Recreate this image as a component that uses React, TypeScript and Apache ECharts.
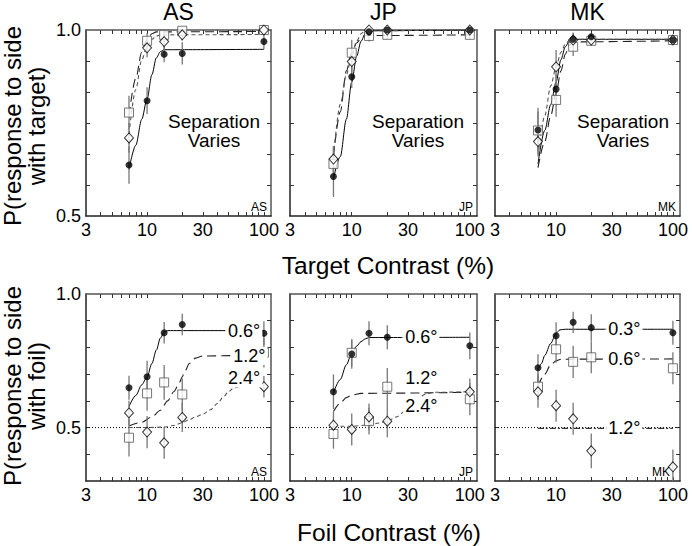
import React, { useEffect, useRef } from "react";
import * as echarts from "echarts";

// ---------- data ----------
const SUBJECTS = ["AS", "JP", "MK"];
const CONTRASTS = [7, 10, 14, 20, 100];
const X_MIN = 3;
const X_MAX = 115;
const X_TICK_LABELS = [3, 10, 30, 100];
const X_TICKS = [4, 5, 6, 7, 8, 9, 10, 20, 30, 40, 50, 60, 70, 80, 90, 100];
const Y_TICK_LABELS = [0.5, 1.0];
const TOP_Y_TICKS = [0.5833, 0.6667, 0.75, 0.8333, 0.9167];
const BOTTOM_Y_TICKS = [0.4, 0.5, 0.6, 0.7, 0.8, 0.9];

// Top row: P(response to side with target), separation varies
const TOP_AS_FILLED = [0.637, 0.81, 0.935, 0.937, 0.969];
const TOP_AS_FILLED_ERR = [0.05, 0.036, 0.022, 0.03, 0.02];
const TOP_AS_SQUARE = [0.778, 0.971, 0.987, 0.998, 1.0];
const TOP_AS_SQUARE_ERR = [0.045, 0.02, 0.012, 0.01, 0.005];
const TOP_AS_DIAMOND = [0.71, 0.952, 0.969, 0.987, 1.0];
const TOP_AS_DIAMOND_ERR = [0.04, 0.025, 0.02, 0.015, 0.005];
const TOP_AS_FIT_SOLID = [[7, 0.625], [8, 0.69], [9, 0.76], [10, 0.815], [11, 0.88], [12, 0.925], [13, 0.942], [14, 0.947], [100, 0.948]];
const TOP_AS_FIT_DASH = [[7, 0.77], [8, 0.87], [9, 0.94], [10, 0.975], [11, 0.99], [12, 0.995], [100, 0.996]];
const TOP_AS_FIT_DOT = [[7, 0.72], [8, 0.84], [9, 0.92], [10, 0.955], [11, 0.975], [12, 0.984], [13, 0.987], [100, 0.988]];

const TOP_JP_FILLED = [0.606, 0.874, 0.995, 1.0, 1.0];
const TOP_JP_FILLED_ERR = [0.055, 0.03, 0.01, 0.005, 0.005];
const TOP_JP_SQUARE = [0.64, 0.939, 0.984, 0.987, 0.987];
const TOP_JP_SQUARE_ERR = [0.045, 0.035, 0.015, 0.012, 0.012];
const TOP_JP_DIAMOND = [0.653, 0.915, 1.0, 1.0, 1.0];
const TOP_JP_DIAMOND_ERR = [0.035, 0.03, 0.005, 0.005, 0.005];
const TOP_JP_FIT_SOLID = [[7, 0.6], [8, 0.66], [9, 0.76], [10, 0.86], [11, 0.93], [12, 0.97], [13, 0.99], [14, 0.998], [100, 1.0]];
const TOP_JP_FIT_DASH = [[7, 0.66], [8, 0.78], [9, 0.89], [10, 0.94], [11, 0.965], [12, 0.978], [13, 0.985], [100, 0.987]];
const TOP_JP_FIT_DOT = [[7, 0.66], [8, 0.8], [9, 0.88], [10, 0.93], [11, 0.97], [12, 0.99], [13, 0.998], [100, 1.0]];

const TOP_MK_FILLED = [0.731, 0.841, 0.975, 0.982, 0.973];
const TOP_MK_FILLED_ERR = [0.06, 0.04, 0.015, 0.01, 0.01];
const TOP_MK_SQUARE = [0.73, 0.812, 0.955, 0.971, 0.973];
const TOP_MK_SQUARE_ERR = [0.05, 0.045, 0.025, 0.012, 0.01];
const TOP_MK_DIAMOND = [0.7, 0.901, 0.973, 0.973, 0.973];
const TOP_MK_DIAMOND_ERR = [0.035, 0.045, 0.02, 0.01, 0.01];
const TOP_MK_FIT_SOLID = [[7, 0.64], [8, 0.73], [9, 0.8], [10, 0.86], [11, 0.92], [12, 0.955], [13, 0.97], [14, 0.975], [100, 0.975]];
const TOP_MK_FIT_DASH = [[7, 0.63], [8, 0.7], [9, 0.77], [10, 0.83], [11, 0.89], [12, 0.935], [13, 0.96], [14, 0.968], [100, 0.971]];
const TOP_MK_FIT_DOT = [[7, 0.66], [8, 0.77], [9, 0.85], [10, 0.9], [11, 0.94], [12, 0.962], [13, 0.972], [14, 0.975], [100, 0.975]];

// Bottom row: P(response to side with foil), separation labels
const BOT_AS_FILLED = [0.649, 0.69, 0.855, 0.886, 0.853];
const BOT_AS_FILLED_ERR = [0.045, 0.06, 0.04, 0.04, 0.045];
const BOT_AS_SQUARE = [0.462, 0.628, 0.669, 0.624, 0.78];
const BOT_AS_SQUARE_ERR = [0.07, 0.065, 0.065, 0.06, 0.055];
const BOT_AS_DIAMOND = [0.555, 0.483, 0.443, 0.538, 0.653];
const BOT_AS_DIAMOND_ERR = [0.045, 0.06, 0.06, 0.055, 0.04];
const BOT_AS_FIT_SOLID = [[7, 0.578], [8, 0.62], [9, 0.66], [10, 0.69], [11, 0.74], [12, 0.79], [13, 0.835], [14, 0.858], [15, 0.863], [100, 0.863]];
const BOT_AS_FIT_DASH = [[7, 0.506], [9, 0.52], [11, 0.54], [13, 0.565], [15, 0.6], [17, 0.635], [19, 0.67], [20, 0.69], [21, 0.71], [23, 0.74], [26, 0.76], [30, 0.768], [100, 0.772]];
const BOT_AS_FIT_DOT = [[7, 0.5], [10, 0.5], [14, 0.502], [17, 0.508], [20, 0.518], [23, 0.53], [26, 0.54], [30, 0.55], [35, 0.567], [40, 0.59], [45, 0.615], [50, 0.635], [55, 0.648], [65, 0.655], [100, 0.657]];
const BOT_AS_LABELS = ["0.6°", "1.2°", "2.4°"];

const BOT_JP_FILLED = [0.634, 0.775, 0.853, 0.838, 0.806];
const BOT_JP_FILLED_ERR = [0.065, 0.055, 0.045, 0.045, 0.05];
const BOT_JP_SQUARE = [0.476, 0.78, 0.524, 0.653, 0.606];
const BOT_JP_SQUARE_ERR = [0.055, 0.05, 0.05, 0.07, 0.06];
const BOT_JP_DIAMOND = [0.509, 0.493, 0.54, 0.524, 0.634];
const BOT_JP_DIAMOND_ERR = [0.05, 0.06, 0.05, 0.06, 0.05];
const BOT_JP_FIT_SOLID = [[7, 0.63], [8, 0.68], [9, 0.735], [10, 0.778], [11, 0.805], [12, 0.822], [13, 0.832], [14, 0.837], [100, 0.838]];
const BOT_JP_FIT_DASH = [[7, 0.56], [8, 0.592], [9, 0.612], [10, 0.622], [12, 0.628], [100, 0.632]];
const BOT_JP_FIT_DOT = [[7, 0.505], [10, 0.505], [14, 0.51], [17, 0.517], [20, 0.525], [24, 0.54], [28, 0.56], [32, 0.585], [36, 0.608], [42, 0.625], [50, 0.632], [100, 0.634]];
const BOT_JP_LABELS = ["0.6°", "1.2°", "2.4°"];

const BOT_MK_FILLED = [0.724, 0.844, 0.894, 0.874, 0.855];
const BOT_MK_FILLED_ERR = [0.05, 0.05, 0.04, 0.05, 0.045];
const BOT_MK_SQUARE = [0.653, 0.793, 0.746, 0.763, 0.722];
const BOT_MK_SQUARE_ERR = [0.05, 0.05, 0.06, 0.06, 0.06];
const BOT_MK_DIAMOND = [0.634, 0.582, 0.533, 0.413, 0.353];
const BOT_MK_DIAMOND_ERR = [0.06, 0.06, 0.06, 0.065, 0.065];
const BOT_MK_FIT_SOLID = [[7, 0.715], [7.5, 0.74], [8, 0.77], [9, 0.815], [10, 0.853], [10.8, 0.866], [12, 0.868], [100, 0.868]];
const BOT_MK_FIT_DASH = [[7, 0.655], [8, 0.7], [9, 0.735], [10, 0.75], [11, 0.756], [100, 0.757]];
const BOT_MK_FIT_DOT = [[7, 0.497], [100, 0.497]];
const BOT_MK_LABELS = ["0.3°", "0.6°", "1.2°"];

// label anchors (data coords) for separation labels in bottom row
const BOT_AS_LABEL_POS = [[47, 0.863], [52, 0.768], [47, 0.684]];
const BOT_JP_LABEL_POS = [[27, 0.838], [27, 0.684], [27, 0.58]];
const BOT_MK_LABEL_POS = [[26.6, 0.868], [26.6, 0.757], [26.6, 0.497]];

// ---------- layout / style ----------
const FONT = '"Liberation Sans", Arial, Helvetica, sans-serif';
const GRID_LEFTS = [86, 290, 495];
const GRID_WIDTHS = [185, 187, 185];
const ROW_TOPS = [30, 294];
const ROW_HEIGHTS = [186, 187];

const PANELS = [
  { filled: TOP_AS_FILLED, fe: TOP_AS_FILLED_ERR, square: TOP_AS_SQUARE, se: TOP_AS_SQUARE_ERR, diamond: TOP_AS_DIAMOND, de: TOP_AS_DIAMOND_ERR, fits: [TOP_AS_FIT_SOLID, TOP_AS_FIT_DASH, TOP_AS_FIT_DOT] },
  { filled: TOP_JP_FILLED, fe: TOP_JP_FILLED_ERR, square: TOP_JP_SQUARE, se: TOP_JP_SQUARE_ERR, diamond: TOP_JP_DIAMOND, de: TOP_JP_DIAMOND_ERR, fits: [TOP_JP_FIT_SOLID, TOP_JP_FIT_DASH, TOP_JP_FIT_DOT] },
  { filled: TOP_MK_FILLED, fe: TOP_MK_FILLED_ERR, square: TOP_MK_SQUARE, se: TOP_MK_SQUARE_ERR, diamond: TOP_MK_DIAMOND, de: TOP_MK_DIAMOND_ERR, fits: [TOP_MK_FIT_SOLID, TOP_MK_FIT_DASH, TOP_MK_FIT_DOT] },
  { filled: BOT_AS_FILLED, fe: BOT_AS_FILLED_ERR, square: BOT_AS_SQUARE, se: BOT_AS_SQUARE_ERR, diamond: BOT_AS_DIAMOND, de: BOT_AS_DIAMOND_ERR, fits: [BOT_AS_FIT_SOLID, BOT_AS_FIT_DASH, BOT_AS_FIT_DOT], labels: BOT_AS_LABELS, labelPos: BOT_AS_LABEL_POS },
  { filled: BOT_JP_FILLED, fe: BOT_JP_FILLED_ERR, square: BOT_JP_SQUARE, se: BOT_JP_SQUARE_ERR, diamond: BOT_JP_DIAMOND, de: BOT_JP_DIAMOND_ERR, fits: [BOT_JP_FIT_SOLID, BOT_JP_FIT_DASH, BOT_JP_FIT_DOT], labels: BOT_JP_LABELS, labelPos: BOT_JP_LABEL_POS },
  { filled: BOT_MK_FILLED, fe: BOT_MK_FILLED_ERR, square: BOT_MK_SQUARE, se: BOT_MK_SQUARE_ERR, diamond: BOT_MK_DIAMOND, de: BOT_MK_DIAMOND_ERR, fits: [BOT_MK_FIT_SOLID, BOT_MK_FIT_DASH, BOT_MK_FIT_DOT], labels: BOT_MK_LABELS, labelPos: BOT_MK_LABEL_POS },
];

const FIT_STYLES: any[] = [
  { color: "#000", width: 1, type: "solid" },
  { color: "#222", width: 1.1, type: [9, 5] },
  { color: "#555", width: 1.1, type: [4, 3] },
];
const MK_BOTTOM_THIRD_STYLE = { color: "#333", width: 1.2, type: [6, 2, 2, 2] };

function buildOption() {
  const grid: any[] = [];
  const xAxis: any[] = [];
  const yAxis: any[] = [];
  const series: any[] = [];
  const graphic: any[] = [];

  PANELS.forEach((p: any, i) => {
    const col = i % 3;
    const row = Math.floor(i / 3);
    const left = GRID_LEFTS[col];
    const top = ROW_TOPS[row];
    const width = GRID_WIDTHS[col];
    const height = ROW_HEIGHTS[row];
    grid.push({ left, top, width, height, show: false });

    const tickStyle = { show: true, inside: true, length: 4, lineStyle: { color: "#333", width: 1 } };
    const xBase = {
      type: "log",
      logBase: 10,
      min: X_MIN,
      max: X_MAX,
      gridIndex: i,
      splitLine: { show: false },
    };
    xAxis.push({
      ...xBase,
      position: "bottom",
      axisLine: { show: true, onZero: false, lineStyle: { color: "#222", width: 1.5 } },
      axisTick: { ...tickStyle, customValues: X_TICKS },
      axisLabel: {
        show: true,
        customValues: X_TICK_LABELS,
        formatter: (v: number) => String(Math.round(v)),
        fontSize: 18,
        fontFamily: FONT,
        color: "#000",
        margin: 5,
      },
    });
    xAxis.push({
      ...xBase,
      position: "top",
      axisLine: { show: true, onZero: false, lineStyle: { color: "#555", width: 1.5 } },
      axisTick: { ...tickStyle, customValues: X_TICKS },
      axisLabel: { show: false },
    });

    const yBase = {
      type: "value",
      min: row === 0 ? 0.5 : 0.3,
      max: 1.0,
      gridIndex: i,
      splitLine: { show: false },
    };
    const yTicks = row === 0 ? TOP_Y_TICKS : BOTTOM_Y_TICKS;
    yAxis.push({
      ...yBase,
      position: "left",
      axisLine: { show: true, onZero: false, lineStyle: { color: "#222", width: 1.5 } },
      axisTick: { ...tickStyle, customValues: yTicks },
      axisLabel: {
        show: col === 0,
        customValues: Y_TICK_LABELS,
        formatter: (v: number) => v.toFixed(1),
        fontSize: 18,
        fontFamily: FONT,
        color: "#000",
        margin: 5,
      },
    });
    yAxis.push({
      ...yBase,
      position: "right",
      axisLine: { show: true, onZero: false, lineStyle: { color: "#555", width: 1.5 } },
      axisTick: { ...tickStyle, customValues: yTicks },
      axisLabel: { show: false },
    });

    const xi = 2 * i;
    const yi = 2 * i;

    if (row === 1) {
      series.push({
        type: "line",
        xAxisIndex: xi,
        yAxisIndex: yi,
        data: [[X_MIN, 0.5], [X_MAX, 0.5]],
        symbol: "none",
        lineStyle: { color: "#000", width: 1, type: [1, 2] },
        z: 1,
        silent: true,
      });
    }

    p.fits.forEach((fit: number[][], k: number) => {
      const st = i === 5 && k === 2 ? MK_BOTTOM_THIRD_STYLE : FIT_STYLES[k];
      series.push({
        type: "line",
        xAxisIndex: xi,
        yAxisIndex: yi,
        data: fit,
        symbol: "none",
        smooth: 0.3,
        smoothMonotone: "x",
        lineStyle: st,
        z: 2,
        silent: true,
      });
    });

    const errData: number[][] = [];
    CONTRASTS.forEach((c, j) => {
      errData.push([c, p.square[j], p.se[j]]);
      errData.push([c, p.diamond[j], p.de[j]]);
      errData.push([c, p.filled[j], p.fe[j]]);
    });
    series.push({
      type: "custom",
      xAxisIndex: xi,
      yAxisIndex: yi,
      data: errData,
      encode: { x: 0, y: 1 },
      clip: true,
      z: 3,
      silent: true,
      renderItem: (params: any, api: any) => {
        const x = api.value(0);
        const y = api.value(1);
        const e = api.value(2);
        const p1 = api.coord([x, y - e]);
        const p2 = api.coord([x, y + e]);
        return {
          type: "line",
          shape: { x1: p1[0], y1: p1[1], x2: p2[0], y2: p2[1] },
          style: { stroke: "#777", lineWidth: 1.3 },
        };
      },
    });

    series.push({
      type: "scatter",
      xAxisIndex: xi,
      yAxisIndex: yi,
      data: CONTRASTS.map((c, j) => [c, p.square[j]]),
      symbol: "rect",
      symbolSize: 9,
      itemStyle: { color: "#fff", borderColor: "#555", borderWidth: 1 },
      z: 4,
      silent: true,
    });
    series.push({
      type: "scatter",
      xAxisIndex: xi,
      yAxisIndex: yi,
      data: CONTRASTS.map((c, j) => [c, p.diamond[j]]),
      symbol: "diamond",
      symbolSize: [9, 10],
      itemStyle: { color: "#fff", borderColor: "#000", borderWidth: 1 },
      z: 5,
      silent: true,
    });
    series.push({
      type: "scatter",
      xAxisIndex: xi,
      yAxisIndex: yi,
      data: CONTRASTS.map((c, j) => [c, p.filled[j]]),
      symbol: "circle",
      symbolSize: 7,
      itemStyle: { color: "#000" },
      z: 6,
      silent: true,
    });

    if (p.labels) {
      series.push({
        type: "scatter",
        xAxisIndex: xi,
        yAxisIndex: yi,
        data: p.labels.map((t: string, k: number) => ({ name: t, value: p.labelPos[k] })),
        symbol: "circle",
        symbolSize: 1,
        itemStyle: { color: "#fff", opacity: 1 },
        label: {
          show: true,
          position: "right",
          distance: 0,
          formatter: "{b}",
          fontSize: 18,
          fontFamily: FONT,
          color: "#000",
          opacity: 1,
          textBorderWidth: 0,
          textBorderColor: "transparent",
          backgroundColor: "#fff",
          padding: [0, 2, 0, 2],
        },
        labelLayout: { hideOverlap: false },
        z: 7,
        silent: true,
      });
    }

    // subject tag in the lower-right corner
    graphic.push({
      type: "text",
      x: left + width - (i === 5 ? 10 : 4),
      y: top + height - 3,
      style: {
        text: SUBJECTS[col],
        fontSize: 12,
        fontFamily: FONT,
        fill: "#000",
        textAlign: "right",
        textVerticalAlign: "bottom",
      },
      z: 10,
    });

    if (row === 0) {
      graphic.push({
        type: "text",
        x: left + width / 2,
        y: 12,
        style: {
          text: SUBJECTS[col],
          fontSize: 23,
          fontFamily: FONT,
          fill: "#000",
          textAlign: "center",
          textVerticalAlign: "middle",
        },
      });
      graphic.push({
        type: "text",
        x: left + 128,
        y: 131,
        style: {
          text: "Separation\nVaries",
          fontSize: 19,
          lineHeight: 19,
          fontFamily: FONT,
          fill: "#000",
          textAlign: "center",
          textVerticalAlign: "middle",
        },
        z: 10,
      });
    }
  });

  graphic.push({
    type: "text",
    x: 388,
    y: 265,
    style: { text: "Target Contrast (%)", fontSize: 24.5, fontFamily: FONT, fill: "#000", textAlign: "center", textVerticalAlign: "middle" },
  });
  graphic.push({
    type: "text",
    x: 389,
    y: 532,
    style: { text: "Foil Contrast (%)", fontSize: 24.5, fontFamily: FONT, fill: "#000", textAlign: "center", textVerticalAlign: "middle" },
  });
  graphic.push({
    type: "text",
    x: 24,
    y: 126,
    rotation: Math.PI / 2,
    style: { text: "P(response to side\nwith target)", fontSize: 24, lineHeight: 24, fontFamily: FONT, fill: "#000", textAlign: "center", textVerticalAlign: "middle" },
  });
  graphic.push({
    type: "text",
    x: 24,
    y: 386,
    rotation: Math.PI / 2,
    style: { text: "P(response to side\nwith foil)", fontSize: 24, lineHeight: 24, fontFamily: FONT, fill: "#000", textAlign: "center", textVerticalAlign: "middle" },
  });

  return {
    animation: false,
    backgroundColor: "#fff",
    textStyle: { fontFamily: FONT },
    grid,
    xAxis,
    yAxis,
    series,
    graphic,
  };
}

export default function App() {
  const ref = useRef<HTMLDivElement>(null);
  useEffect(() => {
    if (!ref.current) return;
    const chart = echarts.init(ref.current, null, { renderer: "svg" });
    chart.setOption(buildOption() as any);
    return () => chart.dispose();
  }, []);
  return (
    <div
      ref={ref}
      style={{ position: "absolute", left: 0, top: 0, width: 692, height: 546, background: "#fff" }}
    />
  );
}
